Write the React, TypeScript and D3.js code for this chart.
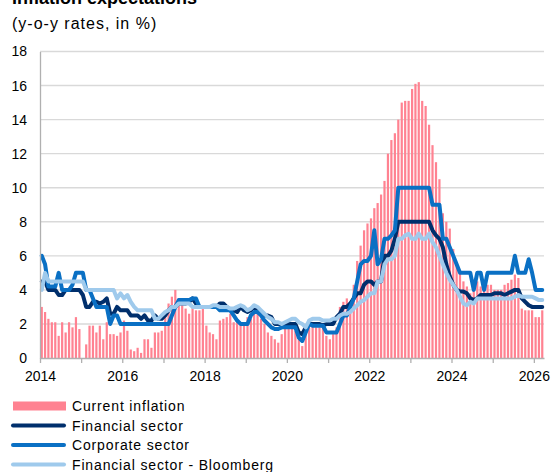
import React, { useEffect, useRef } from 'react';
import * as d3 from 'd3';

// monthly observations, Jan 2014 - Mar 2026
const startYear = 2014;
const yearLabels = [2014, 2016, 2018, 2020, 2022, 2024, 2026];
const yTicks = [0, 2, 4, 6, 8, 10, 12, 14, 16, 18];

const currentInflation = [
    3.0, 2.7, 2.3, 2.1, 2.1, 1.3, 2.1, 1.5, 2.1, 1.8, 2.4, 1.7,
    0.0, 0.8, 1.9, 1.9, 1.5, 1.9, 1.1, 2.1, 1.4, 1.4, 1.3, 1.5,
    2.2, 1.6, 0.5, 0.4, 0.6, 0.3, 1.1, 1.1, 0.6, 1.5, 1.5, 1.6,
    2.4, 3.2, 3.6, 4.0, 3.5, 3.1, 2.9, 2.6, 3.1, 2.8, 2.8, 3.0,
    1.9, 1.5, 1.4, 1.1, 2.2, 2.3, 2.4, 2.6, 2.1, 2.2, 2.0, 2.0,
    2.4, 2.3, 2.6, 3.0, 2.3, 2.0, 1.5, 1.3, 1.1, 0.9, 1.4, 1.9,
    1.9, 1.8, 1.6, 1.5, 0.7, 1.6, 1.8, 1.9, 1.8, 1.8, 1.9, 1.3,
    1.1, 1.4, 1.8, 3.0, 3.3, 3.5, 3.3, 4.3, 5.7, 6.6, 7.5, 7.9,
    8.2, 8.8, 9.1, 9.6, 10.4, 12.0, 12.8, 13.2, 14.0, 15.0, 15.1, 15.1,
    15.8, 16.1, 16.2, 15.1, 14.8, 13.7, 12.5, 11.5, 10.5, 8.5, 8.0, 7.6,
    6.4, 5.6, 5.0, 4.5, 4.2, 3.8, 4.3, 4.5, 4.2, 4.4, 4.3, 4.3,
    4.0, 4.0, 4.0, 4.3, 4.4, 4.6, 4.9, 4.7, 2.9, 2.8, 2.8, 2.8,
    2.4, 2.4, 2.8,
];

const financialSector = [
    4.5, 4.5, 4.0, 4.0, 4.0, 3.7, 3.7, 4.0, 4.0, 4.0, 4.0, 4.0,
    3.7, 3.0, 3.0, 3.3, 3.3, 3.2, 3.3, 3.5, 2.6, 2.6, 3.0, 2.8,
    2.8, 2.8, 2.5, 2.5, 2.5, 2.3, 2.5, 2.2, 2.2, 2.5, 2.3, 2.3,
    2.5, 2.8, 3.0, 3.0, 3.2, 3.2, 3.2, 3.3, 3.5, 3.2, 3.0, 3.0,
    3.0, 3.0, 3.0, 3.0, 3.2, 3.2, 3.0, 2.8, 2.8, 2.7, 3.0, 2.8,
    2.7, 2.8, 3.0, 2.8, 2.7, 2.5, 2.5, 2.4, 2.0, 2.0, 2.0, 2.0,
    2.0, 2.0, 2.0, 1.5, 1.4, 1.8, 2.0, 2.0, 2.0, 2.0, 1.9, 2.0,
    2.0, 2.0, 2.4, 2.6, 3.0, 3.0, 3.2, 3.5, 3.8, 3.8, 4.3, 4.5,
    4.5, 4.3, 4.5, 4.5, 6.0, 6.0, 6.3, 7.0, 8.0, 8.0, 8.0, 8.0,
    8.0, 8.0, 8.0, 8.0, 8.0, 8.0, 7.5, 7.2, 7.0, 6.5, 5.5, 4.8,
    4.3, 4.0, 3.9, 3.9, 3.8, 3.5, 3.4, 3.5, 3.7, 3.7, 3.7, 3.7,
    3.8, 3.8, 3.8, 3.7, 3.8, 3.9, 4.0, 4.0, 3.5, 3.3, 3.1, 3.0,
    3.0, 3.0, 3.0,
];

const corporateSector = [
    6.0, 5.5, 4.2, 4.2, 4.2, 5.0, 4.0, 4.0, 4.0, 4.3, 5.0, 5.0,
    5.0, 4.0, 4.0, 3.5, 3.0, 3.0, 3.0, 3.0, 2.0, 2.5, 2.5, 2.0,
    2.0, 2.0, 2.0, 2.0, 2.0, 2.0, 2.0, 2.0, 2.0, 2.0, 2.0, 2.0,
    2.0, 2.0, 2.5, 3.0, 3.4, 3.4, 3.4, 3.4, 3.5, 3.5, 3.0, 3.0,
    3.0, 3.0, 3.0, 3.0, 2.8, 2.8, 2.8, 2.8, 2.5, 2.2, 2.0, 2.0,
    2.0, 2.5, 2.7, 2.7, 2.5, 2.2, 2.0, 1.8, 1.7, 1.7, 1.8, 1.8,
    1.8, 1.8, 1.8, 1.2, 1.0, 1.5, 2.0, 1.9, 1.9, 1.9, 1.9, 1.5,
    1.5, 1.5, 1.5, 2.0, 2.5, 2.5, 3.0, 3.5, 4.5, 5.5, 5.7, 5.7,
    6.0, 7.5, 5.5, 5.8, 7.0, 7.0, 7.2, 7.5, 10.0, 10.0, 10.0, 10.0,
    10.0, 10.0, 10.0, 10.0, 10.0, 10.0, 9.0, 9.0, 9.0, 7.0, 7.0, 6.5,
    6.0, 5.5, 5.0, 5.0, 5.0, 5.0, 4.0, 5.0, 5.0, 4.0, 5.0, 5.0,
    5.0, 5.0, 5.0, 5.0, 5.0, 5.0, 6.0, 5.0, 5.0, 5.0, 5.8, 5.0,
    4.0, 4.0, 4.0,
];

const financialBloomberg = [
    4.0, 5.0, 4.5, 4.5, 4.5, 4.5, 4.5, 4.5, 4.5, 4.5, 4.5, 4.5,
    4.5, 4.0, 4.0, 4.0, 4.0, 4.0, 4.0, 4.0, 4.0, 4.0, 3.5, 3.8,
    3.5, 3.7, 3.3, 3.0, 2.8, 2.8, 2.8, 2.8, 2.8, 2.3, 2.3, 2.5,
    2.7, 2.8, 3.0, 3.0, 3.2, 3.2, 3.2, 3.2, 3.0, 3.0, 3.0, 3.0,
    3.0, 3.0, 3.1, 3.1, 3.0, 3.0, 3.0, 2.9, 2.9, 3.0, 3.1, 3.0,
    2.8, 2.9, 3.1, 3.0, 2.8, 2.6, 2.4, 2.3, 2.1, 2.1, 2.0, 2.1,
    2.2, 2.3, 2.3, 2.1, 2.0, 1.8, 2.2, 2.3, 2.3, 2.3, 2.2, 2.2,
    2.2, 2.3, 2.3, 2.5, 2.6, 2.6, 2.7, 2.9, 3.1, 3.3, 3.4, 3.6,
    3.8, 3.8, 4.5, 4.5, 5.5, 5.8, 5.8, 6.0, 7.0, 7.0, 7.2, 7.3,
    7.0, 7.0, 7.3, 7.0, 7.0, 7.3, 6.8, 6.5, 6.0, 5.5, 5.0, 4.6,
    4.3, 4.0, 3.6, 3.2, 3.1, 3.3, 3.2, 3.5, 3.5, 3.5, 3.5, 3.5,
    3.5, 3.5, 3.5, 3.5, 3.5, 3.5, 3.6, 3.7, 3.6, 3.6, 3.6, 3.6,
    3.5, 3.4, 3.4,
];

const seriesNames = ['Current inflation', 'Financial sector', 'Corporate sector', 'Financial sector - Bloomberg'];
const seriesColors = ['#ff8291', '#002f6c', '#0a70c4', '#9fcaec'];

const FONT = 'Arial, "Liberation Sans", sans-serif';

const App: React.FC = () => {
    const svgRef = useRef<SVGSVGElement | null>(null);
    const width = 554;
    const height = 472;

    useEffect(() => {
        const svg = d3.select(svgRef.current);
        svg.selectAll('*').remove();

        const left = 40, right = 544, top = 51.5, bottom = 358;

        const x = d3.scaleTime()
            .domain([new Date(startYear, 0, 1), new Date(startYear, currentInflation.length, 1)])
            .range([left, right]);
        const y = d3.scaleLinear().domain([0, 18]).range([bottom, top]);

        const mid = (i: number) => (x(new Date(startYear, i, 1)) + x(new Date(startYear, i + 1, 1))) / 2;

        // title (partly above the frame, as in the source)
        svg.append('text')
            .attr('x', 12).attr('y', 4)
            .attr('font-family', FONT).attr('font-size', 18).attr('font-weight', 'bold')
            .text('Inflation expectations');
        svg.append('text')
            .attr('x', 12).attr('y', 29)
            .attr('font-family', FONT).attr('font-size', 16).attr('letter-spacing', 1)
            .text('(y-o-y rates, in %)');

        // gridlines
        svg.append('g')
            .selectAll('line')
            .data(yTicks.filter(d => d > 0))
            .join('line')
            .attr('x1', left).attr('x2', right)
            .attr('y1', d => y(d)).attr('y2', d => y(d))
            .attr('stroke', '#d9d9d9')
            .attr('stroke-width', 1.4);

        // bars
        svg.append('g')
            .selectAll('rect')
            .data(currentInflation)
            .join('rect')
            .attr('x', (_, i) => mid(i) - 1.1)
            .attr('width', 2.2)
            .attr('y', d => y(d))
            .attr('height', d => bottom - y(d))
            .attr('fill', seriesColors[0]);

        // lines
        const line = d3.line<number>()
            .x((_, i) => mid(i))
            .y(d => y(d));

        [financialSector, corporateSector, financialBloomberg].forEach((s, j) => {
            svg.append('path')
                .datum(s)
                .attr('fill', 'none')
                .attr('stroke', seriesColors[j + 1])
                .attr('stroke-width', 4)
                .attr('stroke-linejoin', 'round')
                .attr('stroke-linecap', 'round')
                .attr('d', line);
        });

        // axes
        const xAxis = svg.append('g')
            .attr('transform', `translate(0,${bottom})`)
            .call(d3.axisBottom(x)
                .ticks(d3.timeYear.every(1))
                .tickSize(5)
                .tickSizeOuter(0)
                .tickPadding(8)
                .tickFormat(d => {
                    const yr = (d as Date).getFullYear();
                    return yearLabels.includes(yr) ? String(yr) : '';
                }));
        xAxis.selectAll('path, line').attr('stroke', '#b0b0b0').attr('stroke-width', 1.3);
        xAxis.selectAll('text').attr('font-family', FONT).attr('font-size', 14).attr('fill', '#000');

        const yAxis = svg.append('g')
            .attr('transform', `translate(${left},0)`)
            .call(d3.axisLeft(y).tickValues(yTicks).tickSize(0).tickSizeOuter(0).tickPadding(13));
        yAxis.select('.domain').attr('stroke', '#b0b0b0').attr('stroke-width', 1.3);
        yAxis.selectAll('text').attr('font-family', FONT).attr('font-size', 14).attr('fill', '#000');

        // legend
        const legend = svg.append('g');
        const rowY = [406, 425.5, 445, 464.5];
        seriesNames.forEach((name, i) => {
            if (i === 0) {
                legend.append('rect')
                    .attr('x', 13).attr('y', rowY[i] - 4.5)
                    .attr('width', 53).attr('height', 9)
                    .attr('fill', seriesColors[i]);
            } else {
                legend.append('line')
                    .attr('x1', 13).attr('x2', 64)
                    .attr('y1', rowY[i]).attr('y2', rowY[i])
                    .attr('stroke', seriesColors[i])
                    .attr('stroke-width', 4)
                    .attr('stroke-linecap', 'round');
            }
            legend.append('text')
                .attr('x', 72).attr('y', rowY[i] + 5)
                .attr('font-family', FONT).attr('font-size', 14).attr('letter-spacing', 0.85)
                .text(name);
        });
    }, []);

    return (
        <div style={{ position: 'absolute', left: 0, top: 0 }}>
            <svg ref={svgRef} width={width} height={height} style={{ display: 'block' }}></svg>
        </div>
    );
};

export default App;
